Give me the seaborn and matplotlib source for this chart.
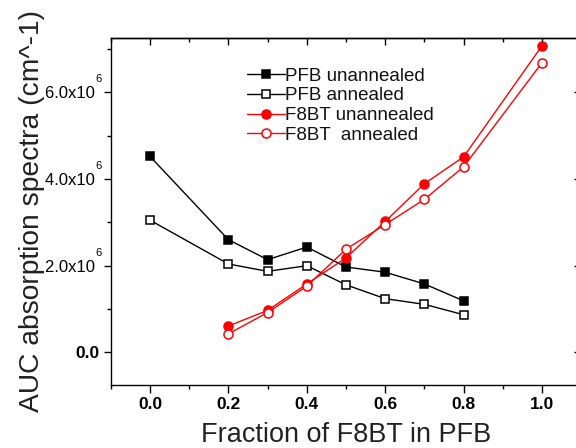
import matplotlib
matplotlib.use("Agg")
import matplotlib.pyplot as plt
import seaborn as sns
import numpy as np
from matplotlib.ticker import MultipleLocator, FuncFormatter, FixedLocator

sns.set_theme(style="white")
plt.rcParams['font.family'] = ['Liberation Sans', 'DejaVu Sans']

# Data (values in units of 1e6 cm^-1)
x_pfb = [0.0, 0.2, 0.3, 0.4, 0.5, 0.6, 0.7, 0.8]
pfb_unannealed = [4.52, 2.60, 2.14, 2.43, 1.97, 1.85, 1.58, 1.19]
pfb_annealed = [3.05, 2.04, 1.87, 2.00, 1.56, 1.24, 1.11, 0.87]
x_f8bt = [0.2, 0.3, 0.4, 0.5, 0.6, 0.7, 0.8, 1.0]
f8bt_unannealed = [0.61, 0.97, 1.58, 2.18, 3.02, 3.89, 4.51, 7.07]
f8bt_annealed = [0.43, 0.92, 1.53, 2.38, 2.95, 3.53, 4.28, 6.68]
labels = ["PFB unannealed", "PFB annealed", "F8BT unannealed", "F8BT  annealed"]
y_major = [0.0, 2.0, 4.0, 6.0]
scale = 1e6

fig = plt.figure(figsize=(5.76, 4.48), dpi=100)
ax = fig.add_axes([110.8/576, 63/448, (581.2-110.8)/576, 347/448])

series = [
    (x_pfb, pfb_unannealed, 'black', 's', 'black', 5.8),
    (x_pfb, pfb_annealed, 'black', 's', 'white', 5.8),
    (x_f8bt, f8bt_unannealed, 'red', 'o', 'red', 6.5),
    (x_f8bt, f8bt_annealed, 'red', 'o', 'white', 6.5),
]
for (xs, ys, c, m, fc, ms), lab in zip(series, labels):
    sns.lineplot(x=xs, y=np.array(ys) * scale, ax=ax, color=c, marker=m,
                 markerfacecolor=fc, markeredgecolor=c, markeredgewidth=1.1,
                 markersize=ms, linewidth=1.0, label=lab, sort=False)

ax.set_xlim(-0.1, 1.1)
ax.set_ylim(-0.75e6, 7.25e6)
ax.xaxis.set_major_locator(MultipleLocator(0.2))
ax.xaxis.set_minor_locator(MultipleLocator(0.1))
ax.yaxis.set_major_locator(FixedLocator([v * scale for v in y_major]))
ax.yaxis.set_minor_locator(MultipleLocator(1e6))

def yfmt(v, pos):
    if abs(v) < 1:
        return '0.0'
    return '%.1fx10 ' % (v / 1e6)
ax.yaxis.set_major_formatter(FuncFormatter(yfmt))
ax.xaxis.set_major_formatter(FuncFormatter(lambda v, p: '%.1f' % v))

for s in ax.spines.values():
    s.set_color('black')
    s.set_linewidth(1.0)

ax.tick_params(axis='x', which='major', direction='out', length=5.8, width=1.0,
               colors='black', labelsize=12.5, pad=3.0, bottom=True)
ax.tick_params(axis='y', which='major', direction='out', length=5, width=1.0,
               colors='black', labelsize=12, pad=3.4, left=True)
ax.tick_params(axis='both', which='minor', direction='out', length=3, width=1.0,
               colors='black', bottom=True, left=True)
for t in ax.get_xticklabels():
    t.set_fontweight('bold')
for t, v in zip(ax.get_yticklabels(), y_major):
    if v == 0:
        t.set_fontweight('bold')
        t.set_fontsize(12.5)
    else:
        ax.annotate('6', xy=(0, v * scale), xycoords=('axes fraction', 'data'),
                    xytext=(-9.1, 9.4), textcoords='offset points',
                    ha='center', va='center', fontsize=8, color='black')

# top / right inward ticks
top = ax.secondary_xaxis('top')
top.xaxis.set_major_locator(MultipleLocator(0.2))
top.xaxis.set_minor_locator(MultipleLocator(0.1))
top.tick_params(which='major', direction='in', length=5, width=1.0, labeltop=False, colors='black')
top.tick_params(which='minor', direction='in', length=3, width=1.0, colors='black')
right = ax.secondary_yaxis('right')
right.yaxis.set_major_locator(MultipleLocator(2e6))
right.yaxis.set_minor_locator(MultipleLocator(1e6))
right.tick_params(which='major', direction='in', length=5, width=1.0, labelright=False, colors='black')
right.tick_params(which='minor', direction='in', length=2, width=1.0, colors='black')
for sec in (top, right):
    for s in sec.spines.values():
        s.set_linewidth(1.0)
        s.set_color('black')

ax.set_xlabel('Fraction of F8BT in PFB', fontsize=19.5, color='#222222', labelpad=7)
ax.set_ylabel('AUC absorption spectra (cm^-1)', fontsize=20.3, color='#222222')
ax.yaxis.set_label_coords(-0.14, 0.5)

leg = ax.legend(loc='upper left', bbox_to_anchor=(0.29, 0.915), frameon=False,
                fontsize=13.5, labelspacing=0.14, handlelength=2.0, handletextpad=0.0,
                borderpad=0.0, borderaxespad=0.0)
for t in leg.get_texts():
    t.set_color('#111111')

fig.savefig('out.png', dpi=100)
